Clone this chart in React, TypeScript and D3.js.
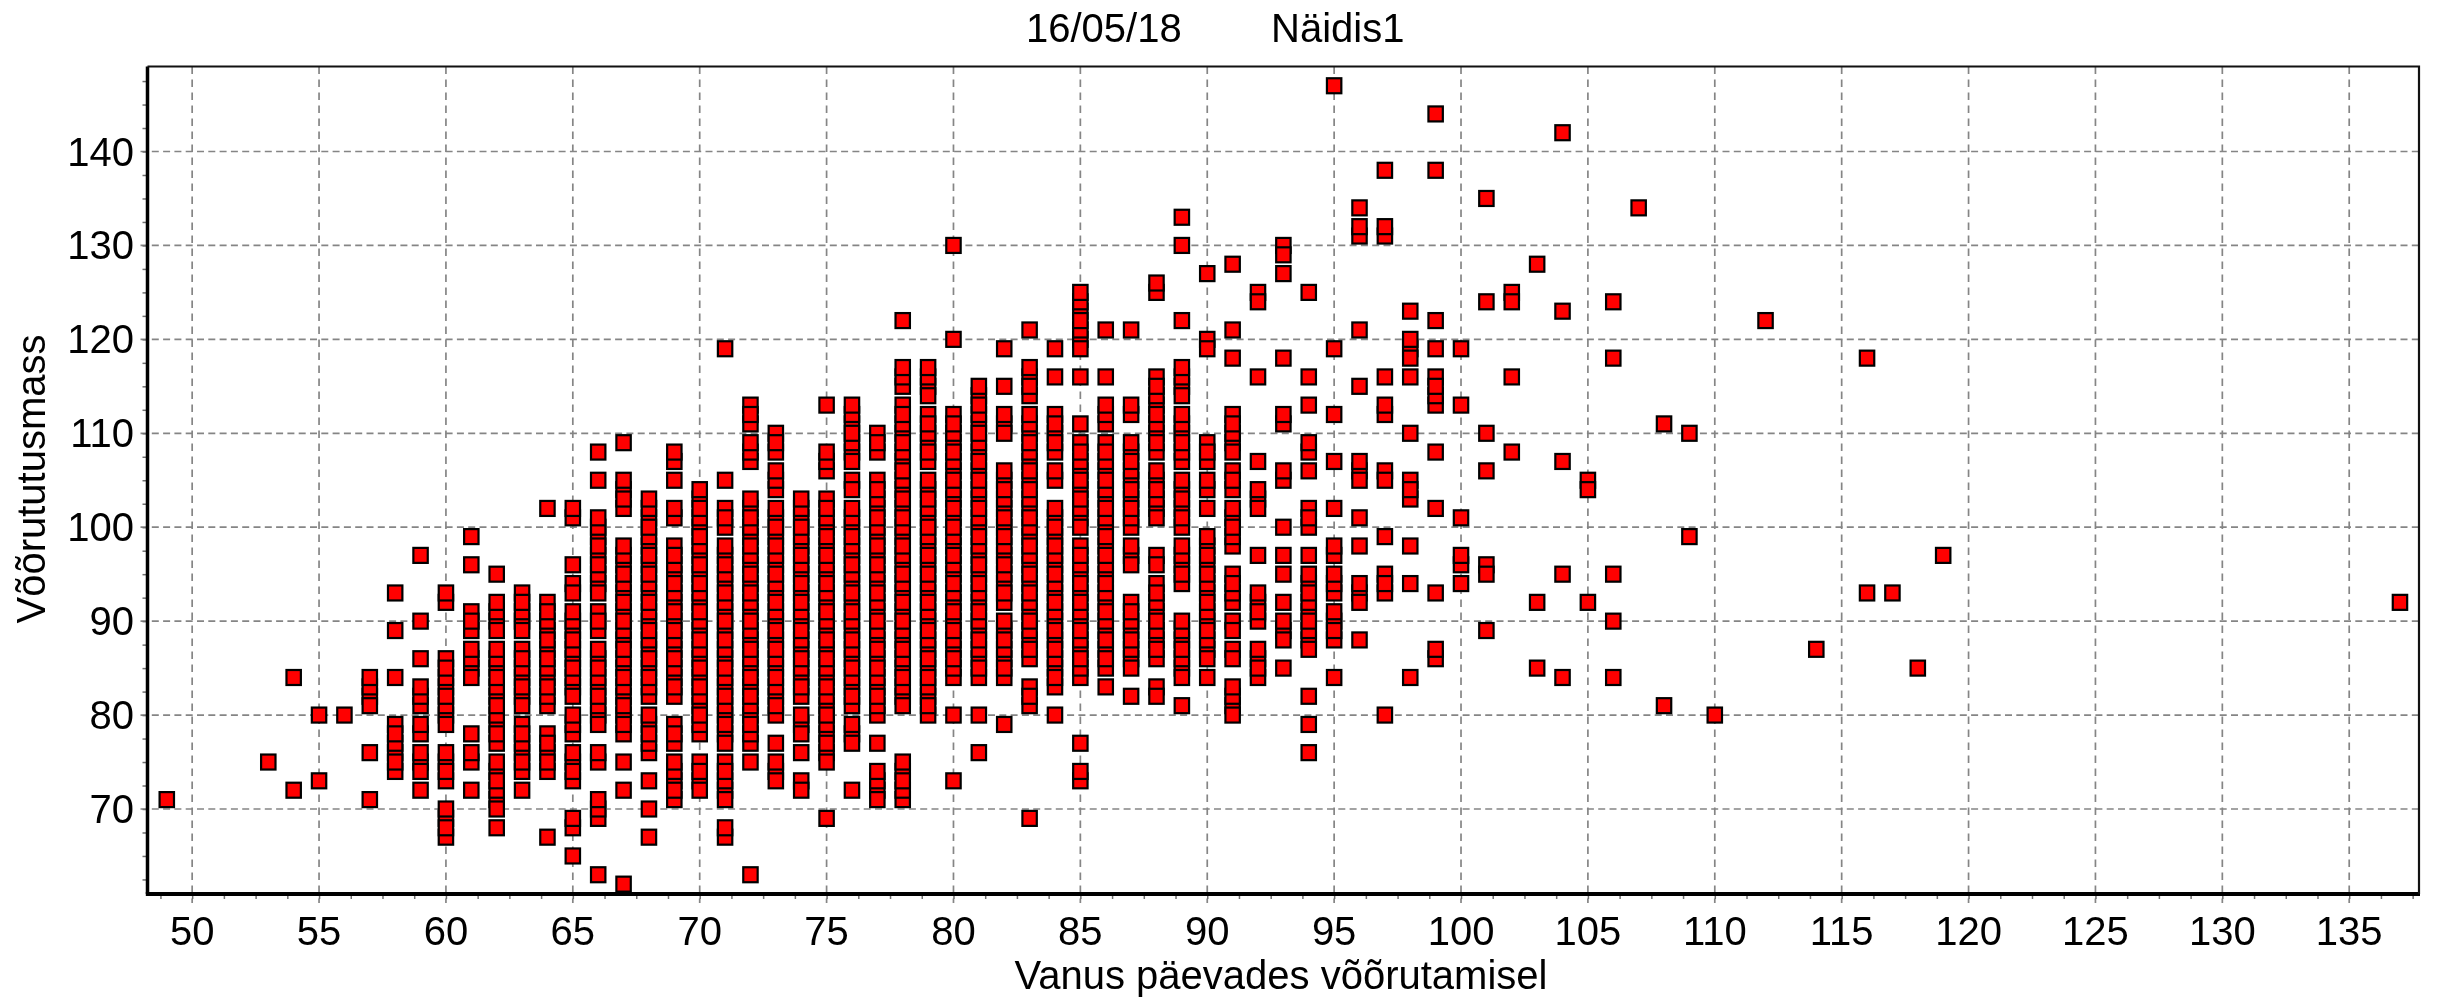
import { useEffect, useRef } from "react";
import * as d3 from "d3";

const xTicks = [50, 55, 60, 65, 70, 75, 80, 85, 90, 95, 100, 105, 110, 115, 120, 125, 130, 135];
const yTicks = [70, 80, 90, 100, 110, 120, 130, 140];

// age at weaning -> weaning masses, one row per age
const ages = [
  49, 53, 54, 55, 56, 57, 58, 59, 60, 61, 62, 63, 64, 65, 66, 67, 68, 69, 70,
  71, 72, 73, 74, 75, 76, 77, 78, 79, 80, 81, 82, 83, 84, 85, 86, 87, 88, 89,
  90, 91, 92, 93, 94, 95, 96, 97, 98, 99, 100, 101, 102, 103, 104, 105, 106, 107,
  108, 109, 110, 112, 114, 116, 117, 118, 119, 137,
];
const masses = [
  [71],
  [75],
  [84, 72],
  [80, 73],
  [80],
  [84, 83, 82, 81, 76, 71],
  [93, 89, 84, 79, 78, 77, 76, 75, 74],
  [97, 90, 86, 83, 82, 81, 79, 78, 76, 75, 74, 72],
  [93, 92, 86, 85, 84, 83, 82, 81, 80, 79, 76, 75, 74, 73, 70, 69, 68, 67],
  [99, 96, 91, 90, 89, 87, 86, 85, 84, 78, 76, 75, 72],
  [95, 92, 91, 90, 89, 87, 86, 85, 84, 83, 82, 81, 80, 79, 78, 77, 75, 74, 73, 72, 71, 70, 68],
  [93, 92, 91, 90, 89, 87, 86, 85, 84, 83, 82, 81, 79, 78, 77, 76, 75, 74, 72],
  [102, 92, 91, 90, 89, 88, 87, 86, 85, 84, 83, 82, 81, 78, 77, 76, 75, 74, 67],
  [102, 101, 96, 94, 93, 91, 90, 89, 88, 87, 86, 85, 84, 83, 82, 80, 79, 78, 76, 75, 74, 73, 69, 68, 65],
  [108, 105, 101, 100, 99, 98, 97, 96, 95, 94, 93, 91, 90, 89, 87, 86, 85, 84, 83, 82, 81, 80, 79, 76, 75, 71, 70, 69, 63],
  [109, 105, 104, 103, 102, 98, 97, 96, 95, 94, 93, 92, 91, 90, 89, 88, 87, 86, 85, 84, 83, 82, 81, 80, 79, 78, 75, 72, 62],
  [103, 102, 101, 100, 99, 98, 97, 96, 95, 94, 93, 92, 91, 90, 89, 88, 87, 86, 85, 84, 83, 82, 80, 79, 78, 77, 76, 73, 70, 67],
  [108, 107, 105, 102, 101, 98, 97, 96, 95, 94, 93, 92, 91, 90, 89, 88, 87, 86, 85, 84, 83, 82, 79, 78, 77, 75, 74, 73, 72, 71],
  [104, 103, 102, 101, 100, 99, 98, 97, 96, 95, 94, 93, 92, 91, 90, 89, 88, 87, 86, 85, 84, 83, 82, 81, 80, 79, 78, 75, 74, 73, 72],
  [119, 105, 102, 101, 100, 98, 97, 96, 95, 94, 93, 92, 91, 90, 89, 88, 87, 86, 85, 84, 83, 82, 81, 80, 79, 78, 77, 75, 74, 73, 72, 71, 68, 67],
  [113, 112, 111, 109, 108, 107, 103, 102, 101, 100, 99, 98, 97, 96, 95, 94, 93, 92, 91, 90, 89, 88, 87, 86, 85, 84, 83, 82, 81, 80, 79, 78, 77, 75, 63],
  [110, 109, 108, 106, 105, 104, 102, 101, 100, 99, 98, 97, 96, 95, 94, 93, 92, 91, 90, 89, 88, 87, 86, 85, 84, 83, 82, 81, 80, 77, 75, 74, 73],
  [103, 102, 101, 100, 99, 98, 97, 96, 95, 94, 93, 92, 91, 90, 89, 88, 87, 86, 85, 84, 83, 82, 80, 79, 78, 76, 73, 72],
  [113, 108, 107, 106, 103, 102, 101, 100, 99, 98, 97, 96, 95, 94, 93, 92, 91, 90, 89, 88, 87, 86, 85, 84, 83, 82, 81, 80, 79, 78, 77, 76, 75, 69],
  [113, 112, 111, 110, 109, 108, 107, 105, 104, 102, 101, 100, 99, 98, 97, 96, 95, 94, 93, 92, 91, 90, 89, 88, 87, 86, 85, 84, 83, 82, 81, 79, 78, 77, 72],
  [110, 109, 108, 105, 104, 103, 102, 101, 100, 99, 98, 97, 96, 95, 94, 93, 92, 91, 90, 89, 88, 87, 86, 85, 84, 83, 82, 81, 80, 77, 74, 73, 72, 71],
  [122, 117, 116, 115, 113, 112, 111, 110, 109, 108, 107, 106, 105, 104, 103, 102, 101, 100, 99, 98, 97, 96, 95, 94, 93, 92, 91, 90, 89, 88, 87, 86, 85, 84, 83, 82, 81, 75, 74, 73, 72, 71],
  [117, 116, 115, 114, 112, 111, 110, 109, 108, 107, 105, 104, 103, 102, 101, 100, 99, 98, 97, 96, 95, 94, 93, 92, 91, 90, 89, 88, 87, 86, 85, 84, 83, 82, 81, 80],
  [130, 120, 112, 111, 110, 109, 108, 107, 106, 105, 104, 103, 102, 101, 100, 99, 98, 97, 96, 95, 94, 93, 92, 91, 90, 89, 88, 87, 86, 85, 84, 80, 73],
  [115, 114, 113, 112, 111, 110, 109, 108, 107, 106, 105, 104, 103, 102, 101, 100, 99, 98, 97, 96, 95, 94, 93, 92, 91, 90, 89, 88, 87, 86, 85, 84, 80, 76],
  [119, 115, 112, 111, 110, 106, 105, 104, 103, 102, 101, 100, 99, 98, 97, 96, 95, 94, 93, 92, 90, 89, 88, 87, 86, 85, 84, 79],
  [121, 117, 116, 115, 114, 112, 111, 110, 109, 108, 107, 106, 105, 104, 103, 102, 101, 100, 99, 98, 97, 96, 95, 94, 93, 92, 91, 90, 89, 88, 87, 86, 83, 82, 81, 69],
  [119, 116, 112, 111, 110, 109, 108, 106, 105, 102, 101, 100, 99, 98, 97, 96, 95, 94, 93, 92, 91, 90, 89, 88, 87, 86, 85, 84, 83, 80],
  [125, 124, 123, 122, 121, 120, 119, 116, 111, 109, 108, 107, 106, 105, 104, 103, 102, 101, 100, 98, 97, 96, 95, 94, 93, 92, 91, 90, 89, 88, 87, 86, 85, 84, 77, 74, 73],
  [121, 116, 113, 112, 111, 109, 108, 107, 106, 105, 104, 103, 102, 101, 100, 99, 98, 97, 96, 95, 94, 93, 92, 91, 90, 89, 88, 87, 86, 85, 83],
  [121, 113, 112, 109, 108, 107, 106, 105, 104, 103, 102, 101, 100, 98, 97, 96, 92, 91, 90, 89, 88, 87, 86, 85, 82],
  [126, 125, 116, 115, 114, 113, 112, 111, 110, 109, 108, 106, 105, 104, 103, 102, 101, 97, 96, 94, 93, 92, 91, 90, 89, 88, 87, 86, 83, 82],
  [133, 130, 122, 117, 116, 115, 114, 112, 111, 110, 109, 108, 107, 105, 104, 103, 102, 101, 100, 98, 97, 96, 95, 94, 90, 89, 88, 87, 86, 85, 84, 81],
  [127, 120, 119, 109, 108, 107, 105, 104, 102, 99, 98, 97, 96, 95, 94, 93, 92, 91, 90, 89, 88, 87, 86, 84],
  [128, 121, 118, 112, 111, 110, 109, 108, 106, 105, 104, 102, 101, 100, 99, 98, 95, 94, 93, 92, 90, 89, 87, 86, 83, 82, 81, 80],
  [125, 124, 116, 107, 104, 103, 102, 97, 93, 92, 91, 90, 87, 86, 85, 84],
  [130, 129, 127, 118, 112, 111, 106, 105, 100, 97, 95, 92, 90, 89, 88, 85],
  [125, 116, 113, 109, 108, 106, 102, 101, 100, 97, 95, 94, 93, 92, 91, 90, 89, 88, 87, 82, 79, 76],
  [147, 119, 112, 107, 102, 98, 97, 95, 94, 93, 91, 90, 89, 88, 84],
  [134, 132, 131, 121, 115, 107, 106, 105, 101, 98, 94, 93, 92, 88],
  [138, 132, 131, 116, 113, 112, 106, 105, 99, 95, 94, 93, 80],
  [123, 120, 119, 118, 116, 110, 105, 104, 103, 98, 94, 84],
  [144, 138, 122, 119, 116, 115, 114, 113, 108, 102, 93, 87, 86],
  [119, 113, 101, 97, 96, 94],
  [135, 124, 110, 106, 96, 95, 89],
  [125, 124, 116, 108],
  [128, 92, 85],
  [142, 123, 107, 95, 84],
  [105, 104, 92],
  [124, 118, 95, 90, 84],
  [134],
  [111, 81],
  [110, 99],
  [80],
  [122],
  [87],
  [118, 93],
  [93],
  [85],
  [97],
  [92],
];

const width = 2437;
const height = 1000;
const left = 147.5;
const right = 2419;
const top = 66.5;
const bottom = 894;
const font = "'Liberation Sans', Arial, sans-serif";
const fontSize = 40;

const App = () => {
  const svgRef = useRef<SVGSVGElement>(null);

  useEffect(() => {
    const svg = d3.select(svgRef.current);
    svg.selectAll("*").remove();

    const xScale = d3.scaleLinear().domain([48.24, 137.75]).range([left, right]);
    const yScale = d3.scaleLinear().domain([60.95, 149.05]).range([bottom, top]);

    svg.append("rect").attr("width", width).attr("height", height).attr("fill", "#fff");

    // grid lines, they stick out a little past the frame like major ticks
    svg
      .append("g")
      .selectAll("line")
      .data(yTicks)
      .join("line")
      .attr("x1", left - 7)
      .attr("x2", right)
      .attr("y1", (d) => yScale(d))
      .attr("y2", (d) => yScale(d))
      .attr("stroke", "#858585")
      .attr("stroke-width", 1.7)
      .attr("stroke-dasharray", "7 4.3");
    svg
      .append("g")
      .selectAll("line")
      .data(xTicks)
      .join("line")
      .attr("x1", (d) => xScale(d))
      .attr("x2", (d) => xScale(d))
      .attr("y1", top)
      .attr("y2", bottom + 9)
      .attr("stroke", "#858585")
      .attr("stroke-width", 1.7)
      .attr("stroke-dasharray", "7.5 5.5");

    const points = ages
      .flatMap((age, i) => masses[i].map((mass) => ({ age, mass })))
      // draw order only: the original plots in record order, so dividers look uneven
      .sort((a, b) => (a.age * 13 + a.mass * 37) % 11 - (b.age * 13 + b.mass * 37) % 11);

    const markerW = 14.4;
    const markerH = 15;
    svg
      .append("g")
      .selectAll("rect")
      .data(points)
      .join("rect")
      .attr("x", (d) => xScale(d.age) - markerW / 2)
      .attr("y", (d) => yScale(d.mass) - markerH / 2)
      .attr("width", markerW)
      .attr("height", markerH)
      .attr("fill", "#ff0000")
      .attr("stroke", "#000")
      .attr("stroke-width", 2.2);

    // minor ticks, 4 per x major, 4 per y major
    const xMinor = d3.range(48.75, 138, 1.25);
    const yMinor = d3.range(62.5, 149, 2.5);
    const xAxis = d3
      .axisBottom(xScale)
      .tickValues(xMinor)
      .tickSize(5)
      .tickFormat(() => "");
    const yAxis = d3
      .axisLeft(yScale)
      .tickValues(yMinor)
      .tickSize(5)
      .tickFormat(() => "");
    const gx = svg.append("g").attr("transform", `translate(0, ${bottom})`).call(xAxis);
    const gy = svg.append("g").attr("transform", `translate(${left}, 0)`).call(yAxis);
    gx.select(".domain").remove();
    gy.select(".domain").remove();
    gx.selectAll("line").attr("stroke", "#707070").attr("stroke-width", 1.5);
    gy.selectAll("line").attr("stroke", "#707070").attr("stroke-width", 1.5);

    // frame, left and bottom heavier than top and right
    svg
      .append("path")
      .attr("d", `M${left},${bottom}V${top}`)
      .attr("stroke", "#000")
      .attr("stroke-width", 3.5);
    svg
      .append("path")
      .attr("d", `M${left - 1.7},${bottom}H${right + 1}`)
      .attr("stroke", "#000")
      .attr("stroke-width", 4);
    svg
      .append("path")
      .attr("d", `M${left},${top}H${right}V${bottom}`)
      .attr("fill", "none")
      .attr("stroke", "#111")
      .attr("stroke-width", 2.2);

    svg
      .append("g")
      .selectAll("text")
      .data(xTicks)
      .join("text")
      .attr("x", (d) => xScale(d))
      .attr("y", 945)
      .attr("text-anchor", "middle")
      .attr("font-family", font)
      .attr("font-size", fontSize)
      .text((d) => d);
    svg
      .append("g")
      .selectAll("text")
      .data(yTicks)
      .join("text")
      .attr("x", 134)
      .attr("y", (d) => yScale(d) + 14)
      .attr("text-anchor", "end")
      .attr("font-family", font)
      .attr("font-size", fontSize)
      .text((d) => d);

    svg
      .append("text")
      .attr("x", 1026)
      .attr("y", 42)
      .attr("font-family", font)
      .attr("font-size", fontSize)
      .text("16/05/18");
    svg
      .append("text")
      .attr("x", 1271)
      .attr("y", 42)
      .attr("font-family", font)
      .attr("font-size", fontSize)
      .text("Näidis1");
    svg
      .append("text")
      .attr("x", 1281)
      .attr("y", 989)
      .attr("text-anchor", "middle")
      .attr("font-family", font)
      .attr("font-size", fontSize)
      .text("Vanus päevades võõrutamisel");
    svg
      .append("text")
      .attr("transform", "rotate(-90)")
      .attr("x", -479)
      .attr("y", 45)
      .attr("text-anchor", "middle")
      .attr("font-family", font)
      .attr("font-size", fontSize)
      .text("Võõrututusmass");
  }, []);

  return (
    <svg
      ref={svgRef}
      width={width}
      height={height}
      style={{ position: "absolute", left: 0, top: 0, display: "block", filter: "blur(0.6px)" }}
    />
  );
};

export default App;
